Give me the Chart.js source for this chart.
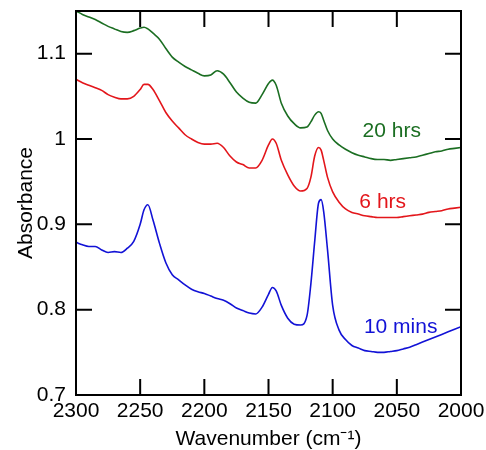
<!DOCTYPE html>
<html>
<head>
<meta charset="utf-8">
<script src="https://cdn.jsdelivr.net/npm/chart.js@4/dist/chart.umd.min.js"></script>
<style>
  body { margin: 0; background: #fff; }
  canvas { display: block; }
</style>
</head>
<body>
<canvas id="chart" width="486" height="450"></canvas>
<script>
// wavenumber grid (cm-1)
const wavenumber = [2300,2295,2290,2285,2280,2275,2270,2265,2260,2255,2250,2247,2244,2240,2235,2230,2225,2220,2215,2210,
  2205,2200,2195,2190,2185,2180,2175,2170,2165,2160,2155,2150,2147,2144,2140,2135,2130,2125,2120,2117,
  2114,2111,2109,2107,2104,2100,2095,2090,2085,2080,2075,2070,2065,2060,2055,2050,2045,2040,2035,2030,
  2025,2020,2015,2010,2005,2000];

const abs10mins = [0.879,0.876,0.874,0.874,0.870,0.867,0.868,0.867,0.872,0.880,0.900,0.917,0.923,0.905,0.878,0.855,0.841,0.835,0.829,0.824,
  0.821,0.819,0.816,0.813,0.811,0.807,0.802,0.799,0.796,0.795,0.803,0.818,0.826,0.822,0.805,0.790,0.783,0.782,0.793,0.830,
  0.880,0.925,0.929,0.915,0.870,0.805,0.776,0.765,0.758,0.755,0.752,0.751,0.750,0.750,0.751,0.752,0.754,0.756,0.759,0.762,
  0.765,0.768,0.771,0.774,0.777,0.780];

const abs6hrs = [1.070,1.066,1.063,1.060,1.057,1.052,1.049,1.047,1.047,1.050,1.058,1.064,1.064,1.058,1.045,1.031,1.021,1.013,1.005,1.000,
  0.996,0.994,0.994,0.995,0.990,0.980,0.973,0.970,0.966,0.966,0.975,0.993,1.000,0.995,0.975,0.958,0.945,0.939,0.942,0.955,
  0.980,0.990,0.987,0.975,0.955,0.938,0.926,0.918,0.914,0.912,0.910,0.909,0.908,0.908,0.908,0.908,0.909,0.910,0.911,0.912,
  0.914,0.915,0.916,0.918,0.919,0.920];

const abs20hrs = [1.150,1.146,1.143,1.140,1.136,1.132,1.129,1.126,1.125,1.127,1.130,1.131,1.129,1.124,1.117,1.106,1.096,1.090,1.085,1.081,
  1.077,1.074,1.075,1.080,1.076,1.066,1.055,1.048,1.043,1.042,1.052,1.065,1.069,1.063,1.042,1.027,1.018,1.013,1.014,1.020,
  1.028,1.032,1.030,1.022,1.010,1.000,0.993,0.988,0.984,0.981,0.979,0.977,0.976,0.976,0.975,0.976,0.977,0.978,0.979,0.981,
  0.983,0.985,0.986,0.988,0.989,0.990];

const seriesNames = ['10 mins', '6 hrs', '20 hrs'];
const xTicks = [2300, 2250, 2200, 2150, 2100, 2050, 2000];
const yTicks = [0.7, 0.8, 0.9, 1, 1.1];

const colors = ['#1212d6', '#e3161b', '#1b6e22'];
const labelAt = [{x: 2047, y: 0.780}, {x: 2061, y: 0.926}, {x: 2054, y: 1.009}];
const FONT = 'Liberation Sans, Arial, sans-serif';
const FSIZE = 21;

function toPoints(vals){
    return wavenumber.map((w, i) => ({x: w, y: vals[i]}));
}

const framePlugin = {
    id: 'frame',
    afterDatasetsDraw(chart){
        const ctx = chart.ctx, a = chart.chartArea;
        const xs = chart.scales.x, ys = chart.scales.y;
        ctx.save();
        ctx.strokeStyle = '#000';
        ctx.lineWidth = 2;
        ctx.strokeRect(a.left, a.top, a.right - a.left, a.bottom - a.top);
        ctx.beginPath();
        xTicks.forEach(v => {
            const px = xs.getPixelForValue(v);
            ctx.moveTo(px, a.bottom); ctx.lineTo(px, a.bottom - 16);
            ctx.moveTo(px, a.top); ctx.lineTo(px, a.top + 16);
        });
        yTicks.forEach(v => {
            const py = ys.getPixelForValue(v);
            ctx.moveTo(a.left, py); ctx.lineTo(a.left + 16, py);
            ctx.moveTo(a.right, py); ctx.lineTo(a.right - 16, py);
        });
        ctx.stroke();

        // curve labels
        ctx.font = FSIZE + 'px ' + FONT;
        ctx.textAlign = 'center';
        ctx.textBaseline = 'middle';
        seriesNames.forEach((name, i) => {
            ctx.fillStyle = colors[i];
            ctx.fillText(name, xs.getPixelForValue(labelAt[i].x), ys.getPixelForValue(labelAt[i].y));
        });
        ctx.restore();
    }
};

new Chart(document.getElementById('chart'), {
    type: 'line',
    data: {
        datasets: [abs10mins, abs6hrs, abs20hrs].map((vals, i) => ({
            label: seriesNames[i],
            data: toPoints(vals),
            borderColor: colors[i],
            borderWidth: 1.6,
            pointRadius: 0,
            fill: false,
            cubicInterpolationMode: 'monotone'
        }))
    },
    options: {
        responsive: false,
        animation: false,
        devicePixelRatio: 1,
        layout: { padding: { left: 0, right: 25, top: 11, bottom: 0 } },
        plugins: { legend: { display: false }, tooltip: { enabled: false } },
        scales: {
            x: {
                type: 'linear',
                reverse: true,
                min: 2000,
                max: 2300,
                afterBuildTicks: s => { s.ticks = xTicks.map(v => ({value: v})); },
                afterFit: s => { s.height = 55; s.paddingLeft = 0; s.paddingRight = 0; },
                grid: { display: false, drawTicks: false },
                border: { display: false },
                ticks: { color: '#000', font: { family: FONT, size: FSIZE }, padding: 4, maxRotation: 0, autoSkip: false,
                         callback: v => String(v) },
                title: { display: true, text: 'Wavenumber (cm\u207B\u00B9)', color: '#000',
                         font: { family: FONT, size: FSIZE, lineHeight: 1 }, padding: { top: 0, bottom: 0 } }
            },
            y: {
                min: 0.7,
                max: 1.15,
                afterBuildTicks: s => { s.ticks = yTicks.map(v => ({value: v})); },
                afterFit: s => { s.width = 76; s.paddingTop = 0; s.paddingBottom = 0; },
                grid: { display: false, drawTicks: false },
                border: { display: false },
                ticks: { color: '#000', font: { family: FONT, size: FSIZE }, padding: 10,
                         callback: v => String(+v.toFixed(2)) },
                title: { display: true, text: 'Absorbance', color: '#000',
                         font: { family: FONT, size: FSIZE, lineHeight: 1 }, padding: { top: 16, bottom: 0 } }
            }
        }
    },
    plugins: [framePlugin]
});
</script>
</body>
</html>
